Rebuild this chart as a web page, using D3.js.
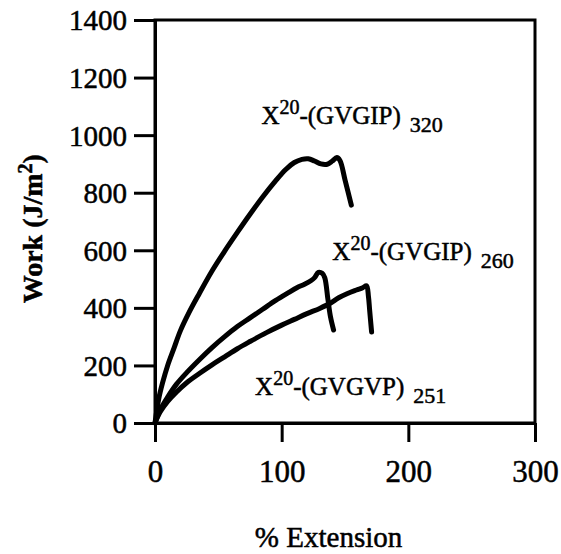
<!DOCTYPE html>
<html>
<head>
<meta charset="utf-8">
<script src="https://cdn.jsdelivr.net/npm/d3@7"></script>
<style>
  body { margin: 0; background: white; }
  text { font-family: "Liberation Serif", "Times New Roman", Tinos, "Nimbus Roman", "DejaVu Serif", serif; fill: black; stroke: black; stroke-width: 0.5px; }
</style>
</head>
<body>
<svg id="plot"></svg>
<script>
const serif = '"Liberation Serif", "Times New Roman", Tinos, "Nimbus Roman", "DejaVu Serif", serif';

// Data: [% extension, work J/m2]
const gvgip320 = [[0,0],[3,85],[6,140],[10,200],[15,260],[20,320],[27,385],[35,450],[45,528],[55,597],[65,662],[75,725],[85,785],[95,840],[103,880],[110,905],[116,916],[121,918],[126,910],[131,900],[136,899],[140,910],[143.5,922],[146,912],[150,845],[155,757]];
const gvgip260 = [[0,0],[4,45],[10,90],[17,135],[25,175],[35,220],[45,262],[55,300],[65,335],[75,365],[85,395],[95,425],[105,452],[112,470],[118,482],[123,494],[126,505],[129,523],[132,520],[134,505],[136.5,430],[138.5,370],[141,323]];
const gvgvp251 = [[0,0],[4,38],[10,75],[17,108],[25,140],[35,172],[45,202],[55,230],[65,258],[75,283],[88,314],[100,340],[110,360],[120,380],[130,398],[138,415],[145,435],[152,450],[159,462],[164,470],[167,477],[168.5,440],[169.5,390],[171,316]];

const xTicks = [0, 100, 200, 300];
const yTicks = [0, 200, 400, 600, 800, 1000, 1200, 1400];

// labels: polymer, subscript, position in data units
const labelNames = ["(GVGIP)", "(GVGIP)", "(GVGVP)"];
const labelSubs = ["320", "260", "251"];
const labelAt = [[84, 1040], [140, 565], [79, 98]];

let width = 561, height = 554;
let margin = { top: 20, bottom: 131, left: 155, right: 26 };

let svg = d3.select('#plot')
  .attr('width', width)
  .attr('height', height)
  .style('background', 'white');

let xScale = d3.scaleLinear()
  .domain([0, 300])
  .range([margin.left, width - margin.right]);

let yScale = d3.scaleLinear()
  .domain([0, 1400])
  .range([height - margin.bottom, margin.top]);

// frame
svg.append('rect')
  .attr('x', xScale(0))
  .attr('y', yScale(1400))
  .attr('width', xScale(300) - xScale(0))
  .attr('height', yScale(0) - yScale(1400))
  .attr('fill', 'none')
  .attr('stroke', 'black')
  .attr('stroke-width', 3);

let xAxis = svg.append('g')
  .attr('transform', `translate(0, ${yScale(0)})`)
  .call(d3.axisBottom(xScale).tickValues(xTicks).tickFormat(d3.format('d'))
    .tickSize(19).tickSizeOuter(0).tickPadding(18));

let yAxis = svg.append('g')
  .attr('transform', `translate(${xScale(0)}, 0)`)
  .call(d3.axisLeft(yScale).tickValues(yTicks).tickFormat(d3.format('d'))
    .tickSize(21).tickSizeOuter(0).tickPadding(7));

[xAxis, yAxis].forEach(a => {
  a.attr('font-family', serif);
  a.select('.domain').attr('stroke-width', 3);
  a.selectAll('.tick line').attr('stroke-width', 3);
});
xAxis.selectAll('.tick text').style('font-size', '31px');
yAxis.selectAll('.tick text').style('font-size', '29px').attr('dy', '0.34em');

// curves
let line = d3.line()
  .x(d => xScale(d[0]))
  .y(d => yScale(d[1]))
  .curve(d3.curveCatmullRom.alpha(0.5));

[gvgip320, gvgip260, gvgvp251].forEach(s => {
  svg.append('path')
    .datum(s)
    .attr('d', line)
    .attr('fill', 'none')
    .attr('stroke', 'black')
    .attr('stroke-width', 5)
    .attr('stroke-linejoin', 'round')
    .attr('stroke-linecap', 'round');
});

// series labels
labelNames.forEach((name, i) => {
  let t = svg.append('text')
    .attr('x', xScale(labelAt[i][0]))
    .attr('y', yScale(labelAt[i][1]))
    .style('font-size', '25px');
  t.append('tspan').text('X');
  t.append('tspan').attr('dy', -10).style('font-size', '20px').text('20');
  t.append('tspan').attr('dy', 10).text('-' + name);
  t.append('tspan').attr('dx', 9).attr('dy', 8).style('font-size', '22px').text(labelSubs[i]);
});

// axis titles
svg.append('text')
  .attr('x', xScale(137))
  .attr('y', 547)
  .attr('text-anchor', 'middle')
  .style('font-size', '29px')
  .text('% Extension');

let yt = svg.append('text')
  .attr('transform', `translate(42, ${yScale(675)}) rotate(-90)`)
  .attr('text-anchor', 'middle')
  .style('font-size', '28px')
  .style('font-weight', 'bold');
yt.append('tspan').text('Work (J/m');
yt.append('tspan').attr('dy', -10).style('font-size', '20px').text('2');
yt.append('tspan').attr('dy', 10).text(')');
</script>
</body>
</html>
